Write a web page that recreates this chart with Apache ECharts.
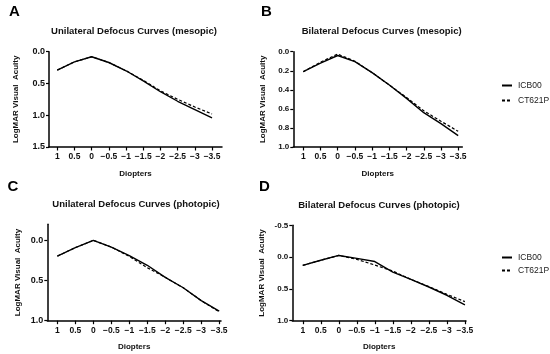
<!DOCTYPE html>
<html>
<head>
<meta charset="utf-8">
<script src="https://cdn.jsdelivr.net/npm/echarts@6/dist/echarts.min.js"></script>
<style>html,body{margin:0;padding:0;background:#fff;}#c{width:550px;height:354px;}</style>
</head>
<body>
<div id="c"></div>
<script>
// ---- data ----
const diopters = [1, 0.5, 0, -0.5, -1, -1.5, -2, -2.5, -3, -3.5];
const seriesNames = ['ICB00', 'CT621P'];
const panelLetters = ['A', 'B', 'C', 'D'];
const panelTitles = [
  'Unilateral Defocus Curves (mesopic)',
  'Bilateral Defocus Curves (mesopic)',
  'Unilateral Defocus Curves (photopic)',
  'Bilateral Defocus Curves (photopic)'
];
const yAxisName = 'LogMAR Visual  Acuity';
const xAxisName = 'Diopters';

const A_ICB00  = [0.29, 0.16, 0.08, 0.17, 0.30, 0.46, 0.63, 0.78, 0.91, 1.04];
const A_CT621P = [0.29, 0.16, 0.08, 0.17, 0.30, 0.45, 0.615, 0.75, 0.87, 0.98];
const B_ICB00  = [0.21, 0.12, 0.04, 0.105, 0.22, 0.35, 0.49, 0.64, 0.755, 0.88];
const B_CT621P = [0.21, 0.11, 0.025, 0.10, 0.22, 0.35, 0.48, 0.62, 0.73, 0.835];
const C_ICB00  = [0.196, 0.09, 0.0, 0.083, 0.19, 0.31, 0.46, 0.59, 0.75, 0.88];
const C_CT621P = [0.196, 0.09, 0.0, 0.083, 0.20, 0.34, 0.46, 0.59, 0.75, 0.89];
const D_ICB00  = [0.13, 0.05, -0.026, 0.02, 0.07, 0.235, 0.35, 0.47, 0.60, 0.75];
const D_CT621P = [0.13, 0.05, -0.026, 0.035, 0.125, 0.22, 0.35, 0.465, 0.585, 0.70];

const yTicksA = [0, 0.5, 1.0, 1.5];
const yTicksB = [0, 0.2, 0.4, 0.6, 0.8, 1.0];
const yTicksC = [0, 0.5, 1.0];
const yTicksD = [-0.5, 0, 0.5, 1.0];

// ---- layout ----
const FONT = '"Liberation Sans", Arial, Helvetica, sans-serif';
const panels = [
  {grid: {left: 49, top: 51.7, width: 173, height: 95.3}, xr: [-3.79, 1.24], yr: [0, 1.5], yt: yTicksA, a: A_ICB00, b: A_CT621P,
   title: [134, 32.5], letter: [14.5, 12], yGap: 29, xGap: 23, yFs: 9},
  {grid: {left: 293.3, top: 51.7, width: 169, height: 95.3}, xr: [-3.62, 1.29], yr: [0, 1.0], yt: yTicksB, a: B_ICB00, b: B_CT621P,
   title: [381.7, 32.5], letter: [266.5, 12], yGap: 27, xGap: 23, yFs: 8},
  {grid: {left: 47.3, top: 224.3, width: 173.7, height: 96.4}, xr: [-3.55, 1.28], yr: [-0.2, 1.0], yt: yTicksC, a: C_ICB00, b: C_CT621P,
   title: [136, 205], letter: [13, 187], yGap: 25.5, xGap: 22.5, yFs: 9},
  {grid: {left: 292.3, top: 225.3, width: 173.7, height: 95.4}, xr: [-3.53, 1.29], yr: [-0.5, 1.0], yt: yTicksD, a: D_ICB00, b: D_CT621P,
   title: [379, 206.5], letter: [264.5, 187], yGap: 26.5, xGap: 22.5, yFs: 8}
];

const fmtX = v => (v < 0 ? '\u2212' + Math.abs(v) : String(v));
const axisLine = {show: true, onZero: false, lineStyle: {color: '#000', width: 1.5}};

const grids = [], xAxes = [], yAxes = [], series = [], titles = [];
panels.forEach((p, i) => {
  grids.push(p.grid);
  xAxes.push({
    type: 'value', gridIndex: i, inverse: true, min: p.xr[0], max: p.xr[1],
    axisLine: axisLine,
    axisTick: {show: true, length: 3.5, lineStyle: {color: '#000', width: 1.2}, customValues: diopters},
    axisLabel: {show: true, customValues: diopters, formatter: fmtX, color: '#111', fontSize: 8.5, fontWeight: 'bold', fontFamily: FONT, margin: 5},
    splitLine: {show: false},
    name: xAxisName, nameLocation: 'middle', nameGap: p.xGap,
    nameTextStyle: {color: '#111', fontSize: 8, fontWeight: 'bold', fontFamily: FONT}
  });
  yAxes.push({
    type: 'value', gridIndex: i, inverse: true, min: p.yr[0], max: p.yr[1],
    axisLine: axisLine,
    axisTick: {show: true, length: 3, lineStyle: {color: '#000', width: 1.2}, customValues: p.yt},
    axisLabel: {show: true, customValues: p.yt, formatter: v => v.toFixed(1), color: '#111', fontSize: p.yFs, fontWeight: 'bold', fontFamily: FONT, margin: 4},
    splitLine: {show: false},
    name: yAxisName, nameLocation: 'middle', nameGap: p.yGap, nameRotate: 90,
    nameTextStyle: {color: '#111', fontSize: 8, fontWeight: 'bold', fontFamily: FONT}
  });
  [p.a, p.b].forEach((vals, k) => {
    series.push({
      name: seriesNames[k], type: 'line', xAxisIndex: i, yAxisIndex: i,
      data: diopters.map((d, j) => [d, vals[j]]),
      showSymbol: false, symbol: 'none', silent: true, animation: false,
      lineStyle: {color: '#000', width: k === 0 ? 1.4 : 1.2, type: k === 0 ? 'solid' : [3, 2]},
      itemStyle: {color: '#000'}
    });
  });
  titles.push({
    text: panelTitles[i], left: p.title[0], top: p.title[1] - 6, textAlign: 'center',
    textStyle: {color: '#111', fontSize: 9.5, fontWeight: 'bold', fontFamily: FONT}, padding: 0
  });
  titles.push({
    text: panelLetters[i], left: p.letter[0], top: p.letter[1] - 8, textAlign: 'center',
    textStyle: {color: '#000', fontSize: 15, fontWeight: 'bold', fontFamily: FONT}, padding: 0
  });
});

const legendBase = {
  data: seriesNames, orient: 'vertical', left: 501, itemWidth: 10, itemHeight: 8,
  itemStyle: {color: 'rgba(0,0,0,0)', borderWidth: 0, opacity: 0},
  textStyle: {color: '#222', fontSize: 8.5, fontFamily: FONT, padding: [0, 0, 0, 1]},
  selectedMode: false, padding: 0
};
const legends = [
  Object.assign({}, legendBase, {top: 81, itemGap: 6}),
  Object.assign({}, legendBase, {top: 253, itemGap: 4})
];

const chart = echarts.init(document.getElementById('c'), null, {renderer: 'canvas'});
chart.setOption({
  animation: false,
  backgroundColor: '#fff',
  title: titles,
  legend: legends,
  grid: grids,
  xAxis: xAxes,
  yAxis: yAxes,
  series: series
});
</script>
</body>
</html>
